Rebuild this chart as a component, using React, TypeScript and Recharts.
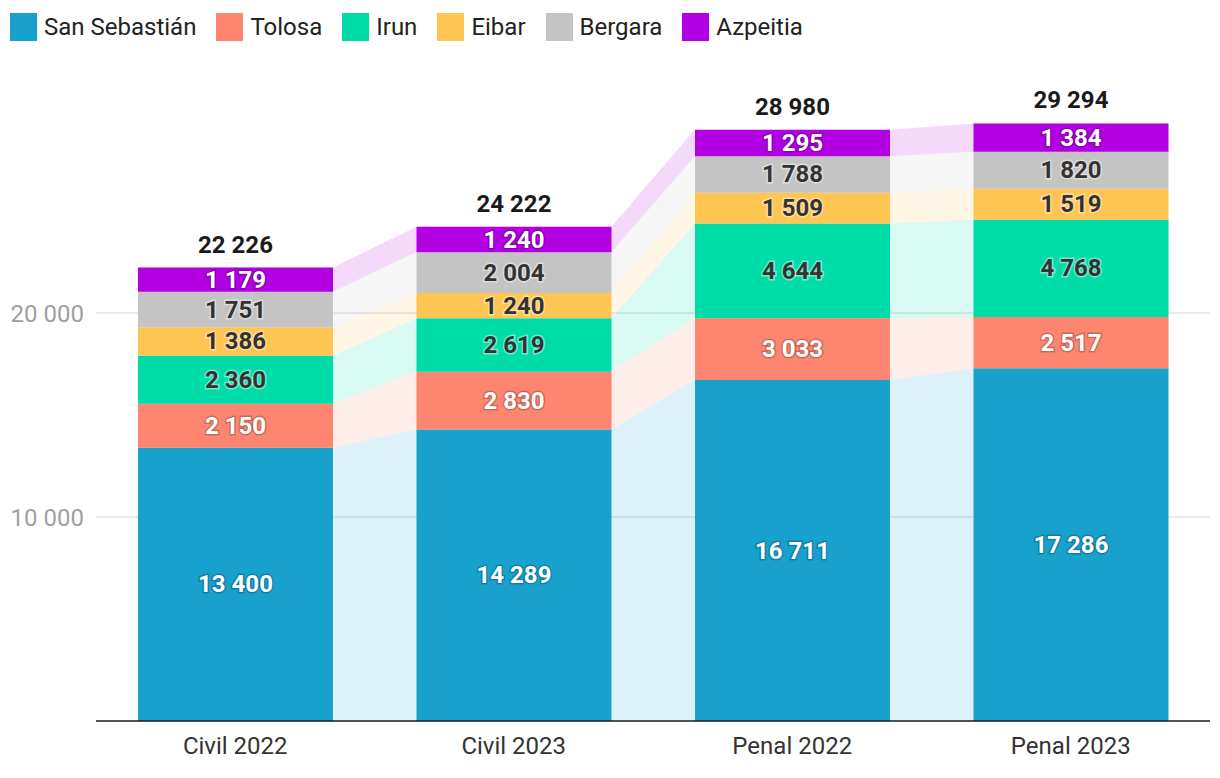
import { ComposedChart, Area, Bar, XAxis, YAxis, CartesianGrid, LabelList } from 'recharts';

const categories = ['Civil 2022', 'Civil 2023', 'Penal 2022', 'Penal 2023'];
const seriesNames = ['San Sebastián', 'Tolosa', 'Irun', 'Eibar', 'Bergara', 'Azpeitia'];
const seriesColors = ['#18a1cd', '#fe8671', '#00dca8', '#ffc552', '#c4c4c4', '#b200e3'];
const darkLabel = [false, false, true, true, true, false];

const sanSebastian = [13400, 14289, 16711, 17286];
const tolosa = [2150, 2830, 3033, 2517];
const irun = [2360, 2619, 4644, 4768];
const eibar = [1386, 1240, 1509, 1519];
const bergara = [1751, 2004, 1788, 1820];
const azpeitia = [1179, 1240, 1295, 1384];

const seriesValues = [sanSebastian, tolosa, irun, eibar, bergara, azpeitia];
const yTicks = [10000, 20000];
const halfBar = 0.35;

const fmt = (n: number) => String(n).replace(/\B(?=(\d{3})+(?!\d))/g, ' ');

// one row per bar
const barData = categories.map((name, i) => {
  const row: any = { name, total: seriesValues.reduce((sum, vals) => sum + vals[i], 0) };
  seriesValues.forEach((vals, s) => (row['b' + s] = vals[i]));
  return row;
});

// connecting bands: [low, high] at both edges of every bar
const bandData: any[] = [];
categories.forEach((_, i) => {
  const row: any = {};
  let acc = 0;
  seriesValues.forEach((vals, s) => {
    row['r' + s] = [acc, acc + vals[i]];
    acc += vals[i];
  });
  bandData.push({ x: i - halfBar, ...row });
  bandData.push({ x: i + halfBar, ...row });
});

const FONT = 'Roboto, sans-serif';

const segmentLabel = (s: number) => (props: any) => {
  const { x, y, width, height, value } = props;
  if (value == null || !height) return null;
  const dark = darkLabel[s];
  return (
    <text
      x={x + width / 2}
      y={y + height / 2}
      textAnchor="middle"
      dominantBaseline="central"
      fontFamily={FONT}
      fontWeight={700}
      fontSize={24}
      fill={dark ? '#333333' : '#ffffff'}
      stroke={dark ? 'rgba(255,255,255,0.45)' : 'rgba(0,0,0,0.22)'}
      strokeWidth={3}
      paintOrder="stroke"
    >
      {fmt(value)}
    </text>
  );
};

const totalLabel = (props: any) => {
  const { x, y, width, value } = props;
  if (value == null) return null;
  return (
    <text
      x={x + width / 2}
      y={y - 23}
      textAnchor="middle"
      dominantBaseline="central"
      fontFamily={FONT}
      fontWeight={700}
      fontSize={24}
      fill="#1a1a1a"
    >
      {fmt(value)}
    </text>
  );
};

function LegendRow() {
  return (
    <div
      style={{
        position: 'absolute',
        left: 10,
        top: 13,
        display: 'flex',
        alignItems: 'center',
        fontFamily: FONT,
        fontSize: 24,
        color: '#222',
        lineHeight: '28px',
      }}
    >
      {seriesNames.map((name, s) => (
        <div key={name} style={{ display: 'flex', alignItems: 'center', marginRight: 20 }}>
          <span style={{ width: 27, height: 28, background: seriesColors[s], marginRight: 7 }} />
          <span>{name}</span>
        </div>
      ))}
    </div>
  );
}

export default function App() {
  return (
    <div style={{ position: 'absolute', left: 0, top: 0, width: 1220, height: 778, background: '#fff' }}>
      <LegendRow />
      <ComposedChart width={1220} height={778} data={barData} margin={{ top: 109, right: 10, bottom: 0, left: 0 }}>
        <CartesianGrid vertical={false} stroke="#e2e2e2" strokeWidth={1.5} syncWithTicks />
        <XAxis
          xAxisId="cat"
          dataKey="name"
          height={57}
          tickLine={false}
          tickSize={0}
          tickMargin={16}
          axisLine={{ stroke: '#1a1a1a', strokeWidth: 1.5 }}
          tick={{ fontFamily: FONT, fontSize: 24, fill: '#333' }}
        />
        <XAxis xAxisId="num" type="number" dataKey="x" domain={[-0.5, 3.5]} hide allowDataOverflow />
        <YAxis
          domain={[0, 30000]}
          ticks={yTicks}
          tickFormatter={fmt}
          width={96}
          axisLine={false}
          tickLine={false}
          tickSize={0}
          tickMargin={12}
          tick={{ fontFamily: FONT, fontSize: 24, fill: '#a0a0a0' }}
          allowDataOverflow
        />
        {seriesNames.map((name, s) => (
          <Area
            key={'r' + s}
            xAxisId="num"
            data={bandData}
            dataKey={'r' + s}
            type="linear"
            stroke="none"
            fill={seriesColors[s]}
            fillOpacity={0.15}
            isAnimationActive={false}
            legendType="none"
          />
        ))}
        {seriesNames.map((name, s) => (
          <Bar
            key={'b' + s}
            xAxisId="cat"
            dataKey={'b' + s}
            name={name}
            stackId="bars"
            fill={seriesColors[s]}
            barSize={195}
            isAnimationActive={false}
          >
            <LabelList dataKey={'b' + s} content={segmentLabel(s)} />
            {s === seriesNames.length - 1 && <LabelList dataKey="total" content={totalLabel} />}
          </Bar>
        ))}
      </ComposedChart>
    </div>
  );
}
